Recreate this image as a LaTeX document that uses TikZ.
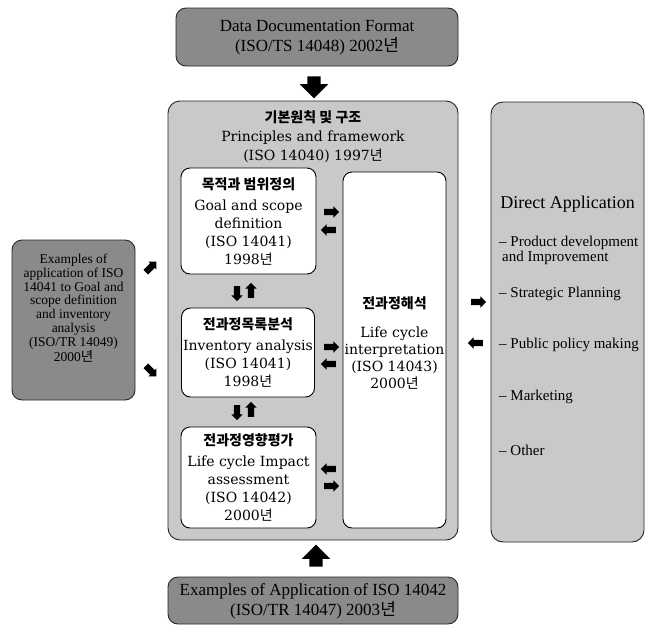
\documentclass[tikz,border=0pt]{standalone}
\usepackage{fontspec}
\setmainfont{DejaVu Serif}
\newfontfamily\tms{Liberation Serif}
\newfontfamily\kr{Noto Sans CJK KR}
\usetikzlibrary{shapes.arrows}
\newcommand{\ny}{{\kr 년}}
\newcommand{\krh}[1]{{\kr\bfseries #1}}
\begin{document}
\begin{tikzpicture}[x=1pt,y=-1pt,
  darkbox/.style={draw=black!85, line width=0.9pt, rounded corners=10pt, fill=black!46, inner sep=0pt},
  lightbox/.style={draw=black!85, line width=0.9pt, rounded corners=12pt, fill=black!21, inner sep=0pt},
  whitebox/.style={draw=black, line width=0.9pt, rounded corners=9pt, fill=white, inner sep=0pt, align=center, font=\fontsize{14}{18}\selectfont},
  blk/.style={shape=single arrow, fill=black, draw=none, inner xsep=0pt, single arrow head extend=#1},
  bigarrow/.style={blk=7.5pt, inner ysep=6.5pt, minimum height=22pt},
  smallarrow/.style={blk=2.5pt, inner ysep=3pt, minimum height=15pt},
  grayt/.style={font=\tms\fontsize{17}{20}\selectfont, align=center},
  item/.style={font=\tms\fontsize{15}{15}\selectfont, anchor=west, inner sep=0pt},
]
\useasboundingbox (0,0) rectangle (650,635);
\fill[white] (0,0) rectangle (650,635);

% top box
\node[darkbox, minimum width=282pt, minimum height=58pt] (top) at (317,37) {};
\node[grayt] (toptxt) at (317,38) {Data Documentation Format\\(ISO/TS 14048) 2002\ny};
\node[bigarrow, rotate=-90] (adown) at (314,84) {};

% main box
\node[lightbox, minimum width=290pt, minimum height=439pt] (main) at (313,320.5) {};
\node[font=\fontsize{14}{19}\selectfont, align=center] (maintxt) at (313,137) {\krh{기본원칙 및 구조}\\Principles and framework\\(ISO 14040) 1997\ny};

\node[whitebox, minimum width=135pt, minimum height=106pt] (goal) at (248.5,221)
  {\krh{목적과 범위정의}\\[3pt]Goal and scope\\definition\\(ISO 14041)\\1998\ny};
\node[whitebox, minimum width=133pt, minimum height=89pt] (inv) at (248,352.5)
  {\krh{전과정목록분석}\\[3pt]Inventory analysis\\(ISO 14041)\\1998\ny};
\node[whitebox, minimum width=135pt, minimum height=101pt] (imp) at (248.5,477.5)
  {\krh{전과정영향평가}\\[3pt]Life cycle Impact\\assessment\\(ISO 14042)\\2000\ny};
\node[whitebox, minimum width=103pt, minimum height=356pt] (interp) at (394.5,350) {};
\node[font=\fontsize{14}{17}\selectfont, align=center] (interptxt) at (394.5,343)
  {\krh{전과정해석}\\[12pt]Life cycle\\interpretation\\(ISO 14043)\\2000\ny};

% arrows inside main box
\node[smallarrow] (g1) at (330,212) {};
\node[smallarrow, rotate=180] (g2) at (330,230) {};
\node[smallarrow] (i1) at (330,347) {};
\node[smallarrow, rotate=180] (i2) at (330,364) {};
\node[smallarrow, rotate=180] (m1) at (330,469) {};
\node[smallarrow] (m2) at (330,486) {};
\node[smallarrow, rotate=-90] (v1) at (237,292) {};
\node[smallarrow, rotate=90] (v2) at (251,292) {};
\node[smallarrow, rotate=-90] (v3) at (237,411) {};
\node[smallarrow, rotate=90] (v4) at (251,411) {};

% left box
\node[darkbox, minimum width=123pt, minimum height=160pt] (left) at (73.5,320) {};
\node[font=\tms\fontsize{13.5}{13.8}\selectfont, align=center] (lefttxt) at (73.5,308)
  {Examples of\\application of ISO\\14041 to Goal and\\scope definition\\and inventory\\analysis\\(ISO/TR 14049)\\2000\ny};
\node[smallarrow, rotate=45] (d1) at (150,268) {};
\node[smallarrow, rotate=-45] (d2) at (150,370) {};

% right box
\node[lightbox, minimum width=153pt, minimum height=440pt] (right) at (567.5,322) {};
\node[font=\tms\fontsize{18}{18}\selectfont] (righttitle) at (567.5,204) {Direct Application};
\node[item] (r1) at (499,243) {– Product development};
\node[item] (r1b) at (502,258) {and Improvement};
\node[item] (r2) at (499,294) {– Strategic Planning};
\node[item] (r3) at (499,345) {– Public policy making};
\node[item] (r4) at (499,397) {– Marketing};
\node[item] (r5) at (499,450) {– Other};
\node[smallarrow] (ra) at (477,302) {};
\node[smallarrow, rotate=180] (la) at (477,343) {};

% bottom
\node[bigarrow, rotate=90] (aup) at (316,559) {};
\node[darkbox, minimum width=290pt, minimum height=47pt] (bot) at (313,600.5) {};
\node[grayt] (bottxt) at (313,601) {Examples of Application of ISO 14042\\(ISO/TR 14047) 2003\ny};
\end{tikzpicture}
\end{document}
